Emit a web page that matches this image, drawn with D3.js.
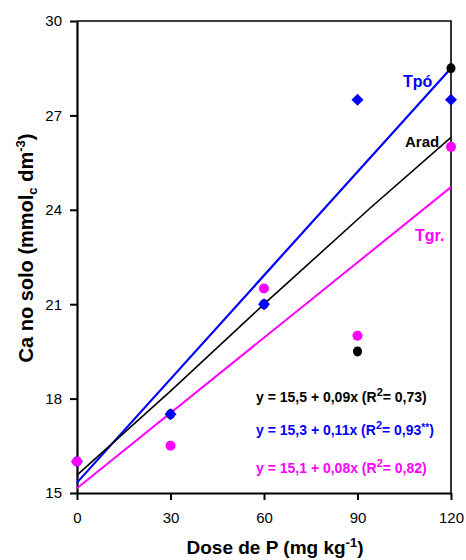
<!DOCTYPE html>
<html>
<head>
<meta charset="utf-8">
<script src="https://cdn.jsdelivr.net/npm/d3@7"></script>
<style>
  body { margin: 0; background: #fff; }
  text { font-family: "Liberation Sans", Arial, sans-serif; }
</style>
</head>
<body>
<script>
// dose levels and observed Ca values
var doses = [0, 30, 60, 90, 120];
var arad = [16, 17.5, 21, 19.5, 28.5];
var tpo = [16, 17.5, 21, 27.5, 27.5];
var tgr = [16, 16.5, 21.5, 20, 26];

// fitted lines as drawn in the figure
var aradFitX = [0, 30, 60, 94, 120];
var aradFitY = [15.57, 18.24, 21.0, 24.05, 26.3];
var tpoFitX = [0, 120];
var tpoFitY = [15.33, 28.5];
var tgrFitX = [0, 120];
var tgrFitY = [15.15, 24.72];

var xTicks = [0, 30, 60, 90, 120];
var yTicks = [15, 18, 21, 24, 27, 30];

var W = 466, H = 560;
var plotL = 77, plotR = 451, plotT = 21, plotB = 493;

var svg = d3.select("body").append("svg")
  .attr("width", W)
  .attr("height", H);

var x = d3.scaleLinear().domain([0, 120]).range([plotL, plotR]);
var y = d3.scaleLinear().domain([15, 30]).range([plotB, plotT]);

// frame (top and right)
svg.append("path")
  .attr("d", "M" + plotL + "," + plotT + "H" + plotR + "V" + plotB)
  .attr("fill", "none")
  .attr("stroke", "#000")
  .attr("stroke-width", 1.6);

var yAxis = svg.append("g")
  .attr("transform", "translate(" + plotL + ",0)")
  .call(d3.axisLeft(y).tickValues(yTicks).tickSize(7).tickSizeOuter(0).tickPadding(8));

var xAxis = svg.append("g")
  .attr("transform", "translate(0," + plotB + ")")
  .call(d3.axisBottom(x).tickValues(xTicks).tickSize(7).tickSizeOuter(0).tickPadding(12));

[yAxis, xAxis].forEach(function (g) {
  g.attr("font-size", 15).attr("font-family", "Liberation Sans, Arial, sans-serif");
  g.select(".domain").attr("stroke-width", 2.2);
  g.selectAll(".tick line").attr("stroke-width", 2);
  g.selectAll("text").attr("fill", "#000");
});

// trend lines
var line = d3.line()
  .x(function (d) { return x(d[0]); })
  .y(function (d) { return y(d[1]); });

function fit(xs, ys) {
  return xs.map(function (v, i) { return [v, ys[i]]; });
}

svg.append("path").datum(fit(tgrFitX, tgrFitY))
  .attr("d", line).attr("fill", "none")
  .attr("stroke", "#ff00ff").attr("stroke-width", 2);
svg.append("path").datum(fit(tpoFitX, tpoFitY))
  .attr("d", line).attr("fill", "none")
  .attr("stroke", "#0000ff").attr("stroke-width", 2.2);
svg.append("path").datum(fit(aradFitX, aradFitY))
  .attr("d", line).attr("fill", "none")
  .attr("stroke", "#000").attr("stroke-width", 1.6);

// points
svg.selectAll(".arad")
  .data(fit(doses, arad))
  .enter().append("ellipse")
  .attr("cx", function (d) { return x(d[0]); })
  .attr("cy", function (d) { return y(d[1]); })
  .attr("rx", 4.5).attr("ry", 5)
  .attr("fill", "#000");

svg.selectAll(".tpo")
  .data(fit(doses, tpo))
  .enter().append("path")
  .attr("d", function (d) {
    var cx = x(d[0]), cy = y(d[1]), r = 6;
    return "M" + cx + "," + (cy - r) + "L" + (cx + r) + "," + cy +
      "L" + cx + "," + (cy + r) + "L" + (cx - r) + "," + cy + "Z";
  })
  .attr("fill", "#0000ff");

svg.selectAll(".tgr")
  .data(fit(doses, tgr))
  .enter().append("circle")
  .attr("cx", function (d) { return x(d[0]); })
  .attr("cy", function (d) { return y(d[1]); })
  .attr("r", 5)
  .attr("fill", "#ff00ff");

// series labels
svg.append("text").attr("x", 403).attr("y", 87)
  .attr("font-size", 16).attr("font-weight", "bold").attr("fill", "#0000ff")
  .text("Tpó");
svg.append("text").attr("x", 405).attr("y", 147)
  .attr("font-size", 15).attr("font-weight", "bold").attr("fill", "#000")
  .text("Arad");
svg.append("text").attr("x", 415).attr("y", 241)
  .attr("font-size", 16).attr("font-weight", "bold").attr("fill", "#ff00ff")
  .text("Tgr.");

// equations
var eqs = [
  {a: "y = 15,5 + 0,09x (R", b: "= 0,73)", star: "", color: "#000", yy: 402},
  {a: "y = 15,3 + 0,11x (R", b: "= 0,93", star: "**", color: "#0000ff", yy: 435},
  {a: "y = 15,1 + 0,08x (R", b: "= 0,82)", star: "", color: "#ff00ff", yy: 473}
];
eqs.forEach(function (e) {
  var t = svg.append("text").attr("x", 256).attr("y", e.yy)
    .attr("font-size", 14).attr("font-weight", "bold").attr("fill", e.color);
  t.append("tspan").text(e.a);
  t.append("tspan").attr("dy", -6).attr("font-size", 11).text("2");
  t.append("tspan").attr("dy", 6).text(e.b);
  if (e.star) {
    t.append("tspan").attr("dy", -4).attr("font-size", 10).text(e.star);
    t.append("tspan").attr("dy", 4).text(")");
  }
});

// axis titles
var xt = svg.append("text")
  .attr("x", 275).attr("y", 554)
  .attr("text-anchor", "middle")
  .attr("font-size", 19).attr("font-weight", "bold");
xt.append("tspan").text("Dose de P (mg kg");
xt.append("tspan").attr("dy", -7).attr("font-size", 13).text("-1");
xt.append("tspan").attr("dy", 7).text(")");

var yt = svg.append("text")
  .attr("transform", "translate(33,248) rotate(-90)")
  .attr("text-anchor", "middle")
  .attr("font-size", 20).attr("font-weight", "bold");
yt.append("tspan").text("Ca no solo (mmol");
yt.append("tspan").attr("dy", 4).attr("font-size", 13).text("c");
yt.append("tspan").attr("dy", -4).text(" dm");
yt.append("tspan").attr("dy", -8).attr("font-size", 13).text("-3");
yt.append("tspan").attr("dy", 8).text(")");
</script>
</body>
</html>
